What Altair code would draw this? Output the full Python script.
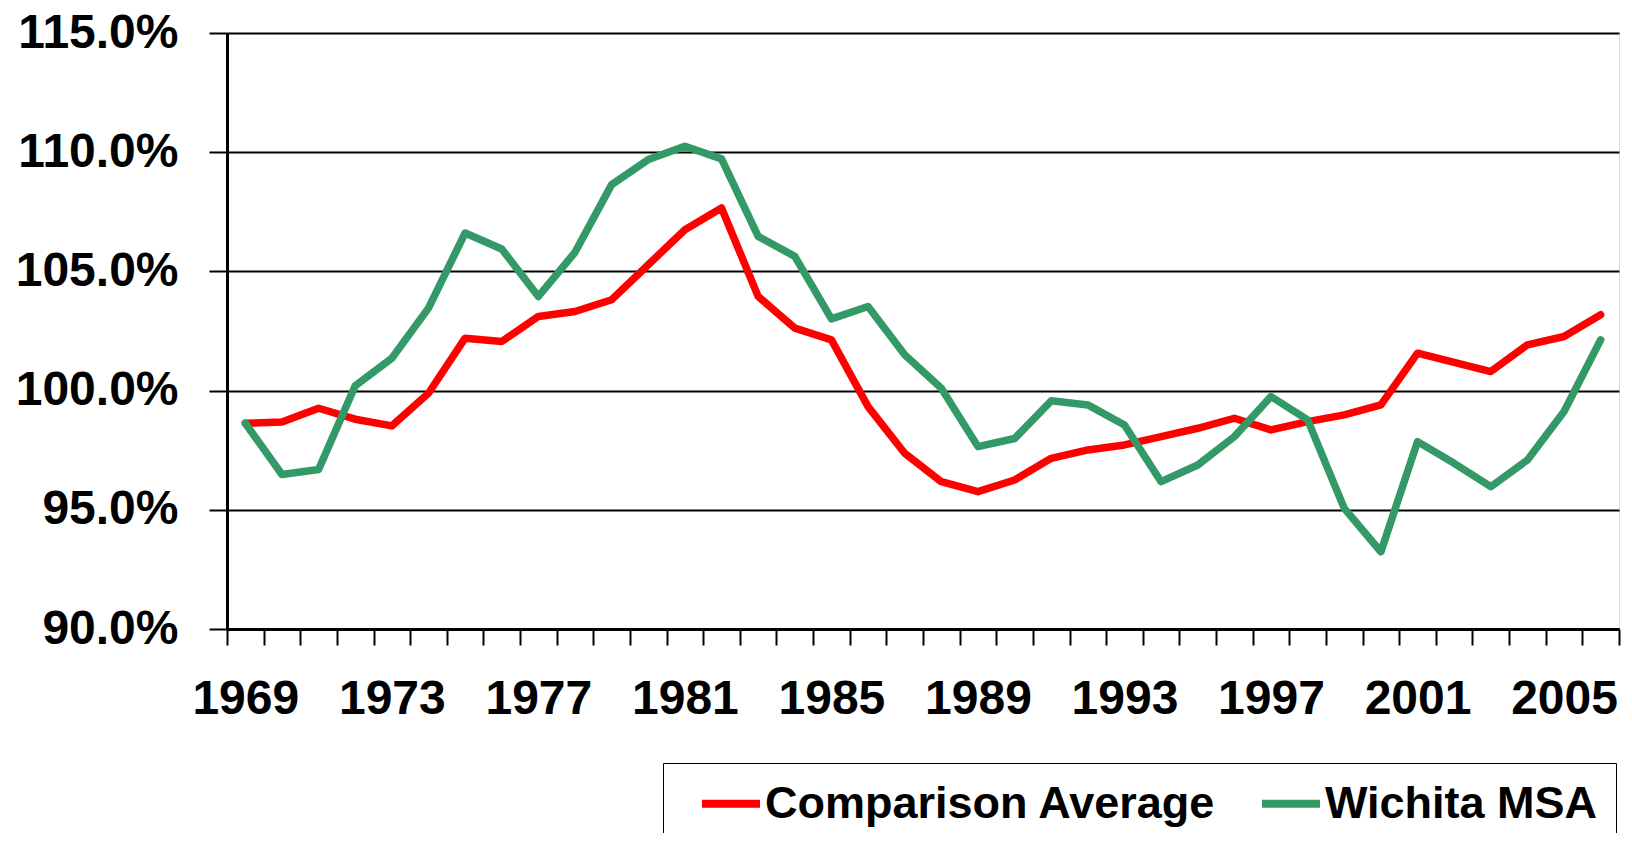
import altair as alt
import pandas as pd

years = list(range(1969, 2007))
comparison = [98.63, 98.68, 99.26, 98.8, 98.52, 99.89, 102.2, 102.06, 103.11, 103.32,
              103.81, 105.28, 106.75, 107.66, 103.95, 102.62, 102.13, 99.33, 97.37,
              96.18, 95.76, 96.25, 97.16, 97.51, 97.72, 98.07, 98.42, 98.84, 98.35,
              98.70, 98.98, 99.4, 101.57, 101.18, 100.8, 101.92, 102.27, 103.18]
wichita = [98.63, 96.48, 96.69, 100.2, 101.36, 103.46, 106.61, 105.94, 103.95, 105.8,
           108.64, 109.69, 110.25, 109.72, 106.47, 105.63, 103.01, 103.53, 101.5,
           100.1, 97.65, 97.99, 99.57, 99.4, 98.56, 96.18, 96.88, 98.07, 99.75,
           98.77, 95.06, 93.24, 97.86, 96.95, 95.97, 97.09, 99.12, 102.13]
series_names = ["Comparison Average", "Wichita MSA"]
series_colors = ["#FF0000", "#339966"]
y_ticks = [90, 95, 100, 105, 110, 115]

rows = []
for name, vals in zip(series_names, [comparison, wichita]):
    for i, (yr, v) in enumerate(zip(years, vals)):
        rows.append({"year": yr, "value": v, "series": name, "idx": i})
df = pd.DataFrame(rows)

FONT = "Liberation Sans"

chart = alt.Chart(df).mark_line(strokeWidth=7.5, strokeCap="round", strokeJoin="round").encode(
    x=alt.X("year:O",
            bandPosition=0.5,
            scale=alt.Scale(type="band", paddingInner=0, paddingOuter=0),
            axis=alt.Axis(title=None, labelAngle=0, tickBand="extent", labelOverlap=False,
                          labelExpr="(datum.value - 1969) % 4 == 0 ? '' + datum.value : ''",
                          labelFont=FONT, labelFontSize=48, labelFontWeight="bold",
                          labelColor="black", labelPadding=30,
                          tickSize=16, tickWidth=2, tickColor="black",
                          domainColor="black", domainWidth=3, grid=False)),
    y=alt.Y("value:Q",
            scale=alt.Scale(domain=[90, 115], nice=False, zero=False),
            axis=alt.Axis(title=None, values=y_ticks,
                          labelExpr="format(datum.value, '.1f') + '%'",
                          labelFont=FONT, labelFontSize=48, labelFontWeight="bold",
                          labelColor="black", labelPadding=31,
                          tickSize=18, tickWidth=2, tickColor="black",
                          domainColor="black", domainWidth=3,
                          grid=True, gridColor="black", gridWidth=2, gridOpacity=1)),
    color=alt.Color("series:N",
                    scale=alt.Scale(domain=series_names, range=series_colors),
                    legend=alt.Legend(title=None, orient="none", direction="horizontal",
                                      legendX=436, legendY=730,
                                      fillColor="white", strokeColor="black",
                                      padding=18, symbolOffset=27.5,
                                      symbolType="M-2,0H2", symbolSize=841,
                                      symbolStrokeWidth=8, labelOffset=11.5,
                                      columnPadding=25, gridAlign="all",
                                      labelFont=FONT, labelFontSize=45,
                                      labelFontWeight="bold", labelColor="black",
                                      labelLimit=1000)),
    order=alt.Order("idx:Q"),
).properties(
    width=1392,
    height=596,
    autosize=alt.AutoSizeParams(type="none"),
    padding={"left": 219, "top": 25, "right": 5, "bottom": 204},
).configure_view(
    stroke="black", strokeWidth=3
).configure(background="white")

chart.save("out.html", embed_options={"renderer": "svg", "actions": False})
